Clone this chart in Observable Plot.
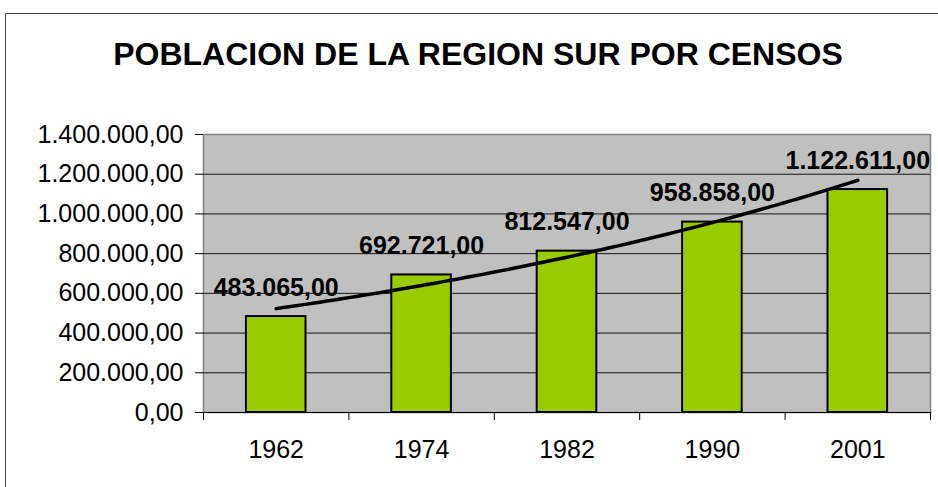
<!DOCTYPE html>
<html>
<head>
<meta charset="utf-8">
<script src="https://cdn.jsdelivr.net/npm/d3@7"></script>
<script src="https://cdn.jsdelivr.net/npm/@observablehq/plot@0.6"></script>
<style>
  body { margin: 0; background: #fff; font-family: "Liberation Sans", Arial, sans-serif; }
  #wrap { position: relative; width: 938px; height: 487px; overflow: hidden; background: #fff; }
  #border { position: absolute; left: 5px; top: 13px; width: 960px; height: 520px; border: 1px solid #444; box-sizing: border-box; }
  #title { position: absolute; left: 0; width: 956px; top: 38px; text-align: center; font-weight: bold; font-size: 32px; line-height: 32px; color: #000; white-space: nowrap; }
  #chart { position: absolute; left: 0; top: 100px; }
</style>
</head>
<body>
<div id="wrap">
  <div id="border"></div>
  <div id="title">POBLACION DE LA REGION SUR POR CENSOS</div>
  <div id="chart"></div>
</div>
<script>
// Data
const years = ["1962", "1974", "1982", "1990", "2001"];
const population = [483065, 692721, 812547, 958858, 1122611];
const yTicks = [0, 200000, 400000, 600000, 800000, 1000000, 1200000, 1400000];

const locale = d3.formatLocale({decimal: ",", thousands: ".", grouping: [3], currency: ["", ""]});
const fmt = locale.format(",.2f");

const rows = years.map((y, k) => ({idx: k + 1, year: y, value: population[k]}));

// Exponential trendline (Excel style, x = 1..n), fitted from the data
const n = population.length;
const xs = population.map((_, k) => k + 1);
const lys = population.map(v => Math.log(v));
const mx = d3.mean(xs), my = d3.mean(lys);
const b = d3.sum(xs, (x, k) => (x - mx) * (lys[k] - my)) / d3.sum(xs, x => (x - mx) ** 2);
const a = my - b * mx;
const trend = d3.range(1, n + 0.0001, 0.05).map(x => ({x, y: Math.exp(a + b * x)}));

const half = 0.205;

const chart = Plot.plot({
  width: 938,
  height: 387,
  marginLeft: 203,
  marginRight: 8,
  marginTop: 34,
  marginBottom: 75,
  style: {fontFamily: '"Liberation Sans", Arial, sans-serif', fontSize: "25px", color: "#000", background: "transparent", overflow: "visible"},
  x: {domain: [0.5, n + 0.5], axis: null},
  y: {domain: [0, 1400000], axis: null},
  marks: [
    Plot.frame({fill: "#c0c0c0", stroke: "#808080", strokeWidth: 1.5}),
    Plot.gridY(yTicks.filter(t => t > 0 && t < 1400000), {stroke: "#000", strokeOpacity: 0.9, strokeWidth: 1}),
    Plot.rectY(rows, {x1: d => d.idx - half, x2: d => d.idx + half, y: "value", fill: "#99cc00", stroke: "#000", strokeWidth: 2}),
    Plot.line(trend, {x: "x", y: "y", stroke: "#000", strokeWidth: 3.5, curve: "linear"}),
    Plot.text(rows, {x: "idx", y: "value", text: d => fmt(d.value), dy: -29, fontWeight: "bold", fontSize: 25, fill: "#000"}),
    Plot.ruleY([0], {stroke: "#000", strokeWidth: 1.2}),
    Plot.axisY({ticks: yTicks, tickSize: 8, tickPadding: 12, tickFormat: fmt, fontSize: 25}),
    Plot.axisX({ticks: d3.range(0.5, n + 1, 1), tickSize: 8, tickFormat: () => ""}),
    Plot.axisX({ticks: xs, tickSize: 0, tickPadding: 28, tickFormat: i => years[i - 1], fontSize: 25})
  ]
});
document.getElementById("chart").appendChild(chart);
</script>
</body>
</html>
